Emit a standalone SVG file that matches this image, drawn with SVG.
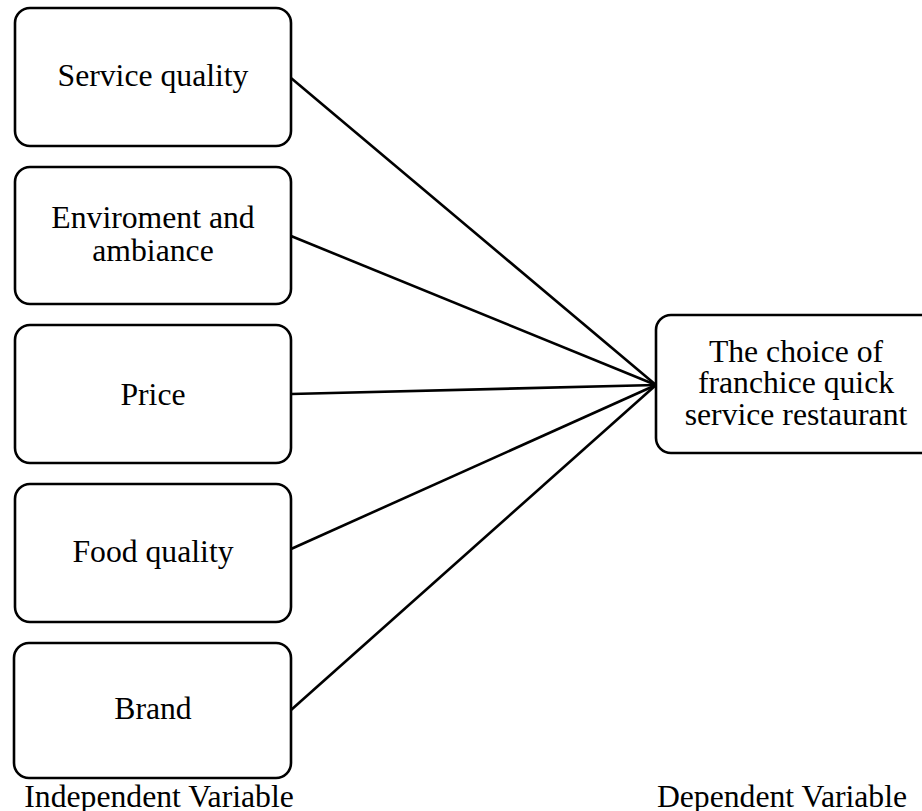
<svg xmlns="http://www.w3.org/2000/svg" width="922" height="811" viewBox="0 0 922 811">
  <style>
    .box { fill: #ffffff; stroke: #000000; stroke-width: 2.6; }
    .lbl { font-family: "Liberation Serif", "Times New Roman", serif; font-size: 31.7px; fill: #000000; text-anchor: middle; }
    .link { stroke: #000000; stroke-width: 2.6; fill: none; }
  </style>
  <rect width="922" height="811" fill="#ffffff"/>

  <!-- connectors from each factor to the outcome -->
  <g id="connectors">
    <line class="link" x1="291" y1="78" x2="656" y2="385"/>
    <line class="link" x1="291" y1="236" x2="656" y2="385"/>
    <line class="link" x1="291" y1="394" x2="656" y2="385"/>
    <line class="link" x1="291" y1="549" x2="656" y2="385"/>
    <line class="link" x1="291" y1="710" x2="656" y2="385"/>
  </g>

  <g id="service-quality">
    <rect class="box" x="15" y="8" width="276" height="138" rx="15"/>
    <text class="lbl" x="153" y="86">Service quality</text>
  </g>
  <g id="environment-ambiance">
    <rect class="box" x="15" y="167" width="276" height="137" rx="15"/>
    <text class="lbl" x="153" y="228">Enviroment and</text>
    <text class="lbl" x="153" y="261">ambiance</text>
  </g>
  <g id="price">
    <rect class="box" x="15" y="325" width="276" height="138" rx="15"/>
    <text class="lbl" x="153" y="405">Price</text>
  </g>
  <g id="food-quality">
    <rect class="box" x="15" y="484" width="276" height="138" rx="15"/>
    <text class="lbl" x="153" y="562">Food quality</text>
  </g>
  <g id="brand">
    <rect class="box" x="14" y="643" width="277" height="135" rx="15"/>
    <text class="lbl" x="153" y="719">Brand</text>
  </g>

  <g id="restaurant-choice">
    <rect class="box" x="656" y="315" width="280" height="138" rx="15"/>
    <text class="lbl" x="796" y="362">The choice of</text>
    <text class="lbl" x="796" y="393">franchice quick</text>
    <text class="lbl" x="796" y="425">service restaurant</text>
  </g>

  <g id="captions">
    <text class="lbl" x="159" y="807">Independent Variable</text>
    <text class="lbl" x="782" y="807">Dependent Variable</text>
  </g>
</svg>
